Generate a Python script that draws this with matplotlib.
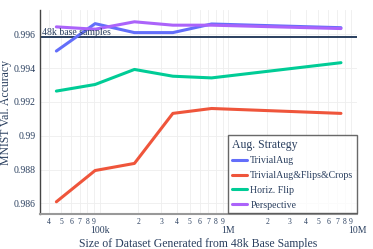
#!/usr/bin/env python3
"""MNIST validation accuracy vs size of generated dataset, per augmentation strategy."""
import matplotlib
matplotlib.use("Agg")
import matplotlib.pyplot as plt
from matplotlib.ticker import FixedLocator, FixedFormatter

SIZES = [46e3, 92e3, 186e3, 370e3, 740e3, 7.5e6]
TRIVIAL_AUG = [0.99501, 0.99663, 0.99610, 0.99610, 0.99661, 0.99639]
TRIVIAL_FLIPS_CROPS = [0.98609, 0.98794, 0.98836, 0.99132, 0.99161, 0.99132]
HORIZ_FLIP = [0.99264, 0.99303, 0.99392, 0.99352, 0.99342, 0.99432]
PERSPECTIVE = [0.99644, 0.99630, 0.99674, 0.99654, 0.99654, 0.99634]
BASELINE = 0.99582

SERIES = [
    ("TrivialAug", TRIVIAL_AUG, "#636efa"),
    ("TrivialAug&Flips&Crops", TRIVIAL_FLIPS_CROPS, "#ef553b"),
    ("Horiz. Flip", HORIZ_FLIP, "#00cc96"),
    ("Perspective", PERSPECTIVE, "#ab63fa"),
]

Y_TICKS = [0.986, 0.988, 0.990, 0.992, 0.994, 0.996]
Y_LABELS = ["0.986", "0.988", "0.99", "0.992", "0.994", "0.996"]
X_MAJOR = [1e5, 1e6, 1e7]
X_MAJOR_LABELS = ["100k", "1M", "10M"]

TEXT = "#2a3f5f"

plt.rcParams["font.family"] = ["Liberation Serif", "DejaVu Serif"]

fig = plt.figure(figsize=(3.73, 2.49), dpi=100)
ax = fig.add_axes([0.1072, 0.1394, 0.85, 0.8206])

for name, vals, color in SERIES:
    ax.plot(SIZES, vals, color=color, lw=2.2, label=name, solid_capstyle="round")

ax.axhline(BASELINE, color="#2a3f5f", lw=1.4, zorder=1)
ax.text(35500, BASELINE + 0.00003, "48k base samples", fontsize=7, color=TEXT,
        va="bottom", ha="left")

ax.set_xscale("log")
ax.set_xlim(34300, 1e7)
ax.set_ylim(0.98535, 0.99744)

minors = []
minor_labels = []
for dec in (1e4, 1e5, 1e6):
    for d in range(2, 10):
        v = d * dec
        if 34300 <= v <= 1e7:
            minors.append(v)
            minor_labels.append(str(d))
ax.xaxis.set_major_locator(FixedLocator(X_MAJOR))
ax.xaxis.set_major_formatter(FixedFormatter(X_MAJOR_LABELS))
ax.xaxis.set_minor_locator(FixedLocator(minors))
ax.xaxis.set_minor_formatter(FixedFormatter(minor_labels))
ax.tick_params(axis="x", which="major", length=0, pad=8.5, labelsize=7, labelcolor=TEXT)
ax.tick_params(axis="x", which="minor", length=0, pad=3, labelsize=5.5, labelcolor=TEXT)

ax.set_yticks(Y_TICKS)
ax.set_yticklabels(Y_LABELS)
ax.tick_params(axis="y", length=0, pad=3, labelsize=7, labelcolor=TEXT)

ax.grid(True, which="both", color="#eeeeee", lw=0.6)
ax.set_axisbelow(True)
for side in ("top", "right"):
    ax.spines[side].set_visible(False)
ax.spines["left"].set_color("#444444")
ax.spines["left"].set_linewidth(1.0)
ax.spines["bottom"].set_color("#999999")
ax.spines["bottom"].set_linewidth(1.5)

ax.set_xlabel("Size of Dataset Generated from 48k Base Samples", fontsize=8.5,
              color=TEXT, labelpad=2)
ax.set_ylabel("MNIST Val. Accuracy", fontsize=8.5, color=TEXT)
ax.yaxis.set_label_coords(-0.088, 0.5)

leg = ax.legend(loc="lower right", bbox_to_anchor=(1.0, 0.006), title="Aug. Strategy",
                fontsize=7.1, title_fontsize=8.5, frameon=True, fancybox=False,
                edgecolor="#444444", handlelength=1.6, handletextpad=0.3,
                labelspacing=0.58, borderpad=0.35, borderaxespad=0)
leg.get_frame().set_linewidth(1.0)
leg._legend_box.align = "left"
for t in leg.get_texts():
    t.set_color(TEXT)
leg.get_title().set_color(TEXT)

fig.savefig("out.png", dpi=100)
